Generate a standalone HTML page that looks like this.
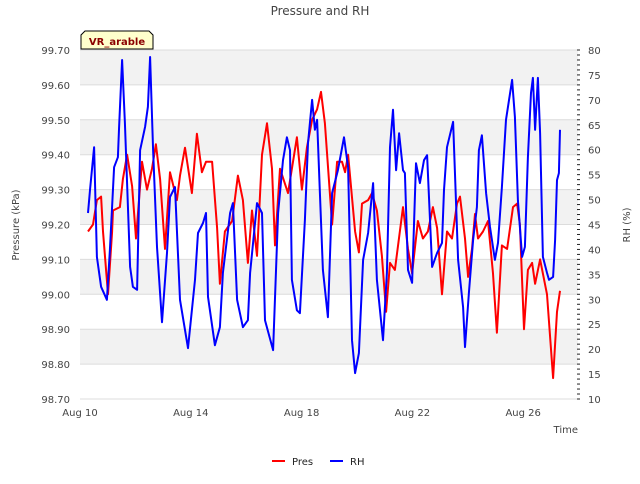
<!DOCTYPE html>
<html><head><meta charset="utf-8"><style>
body{margin:0;background:#fff;font-family:"DejaVu Sans","Liberation Sans",sans-serif}
svg text{font-family:"DejaVu Sans","Liberation Sans",sans-serif}
</style></head><body>
<svg id="chart" width="640" height="480" xmlns="http://www.w3.org/2000/svg">
<text x="320" y="15" text-anchor="middle" font-size="12" fill="#444">Pressure and RH</text>
<g id="bands"></g>
<g id="grid"></g>
<g id="axes"></g>
<g id="series"></g>
<path d="M81,49 L81,35 L85,31 L149,31 L153,35 L153,49 Z" fill="#ffffcc" stroke="#000" stroke-width="1"/>
<text x="117" y="45" text-anchor="middle" font-size="10" font-weight="bold" fill="#8b0000">VR_arable</text>
<text transform="translate(19,225) rotate(-90)" text-anchor="middle" font-size="10" fill="#444">Pressure (kPa)</text>
<text transform="translate(630,225) rotate(-90)" text-anchor="middle" font-size="10" fill="#444">RH (%)</text>
<text x="578" y="433" text-anchor="end" font-size="10" fill="#444">Time</text>
<g>
<line x1="272" y1="461" x2="285" y2="461" stroke="#ff0000" stroke-width="2"/>
<text x="292" y="465" font-size="10" fill="#222">Pres</text>
<line x1="330" y1="461" x2="343" y2="461" stroke="#0000ff" stroke-width="2"/>
<text x="350" y="465" font-size="10" fill="#222">RH</text>
</g>
</svg>
<script>
const presDays=[10.29,10.47,10.61,10.76,10.83,11.01,11.16,11.19,11.44,11.55,11.70,11.88,12.02,12.24,12.42,12.60,12.74,12.89,13.07,13.25,13.50,13.61,13.79,14.04,14.22,14.40,14.55,14.77,14.95,15.05,15.23,15.49,15.70,15.88,16.06,16.21,16.39,16.57,16.75,16.93,17.04,17.22,17.51,17.83,18.01,18.19,18.38,18.56,18.70,18.84,19.10,19.28,19.46,19.57,19.68,19.93,20.07,20.18,20.40,20.54,20.72,20.90,21.05,21.19,21.37,21.66,21.84,21.99,22.20,22.38,22.56,22.74,22.89,23.07,23.25,23.43,23.61,23.72,23.90,24.01,24.15,24.26,24.37,24.55,24.73,24.91,25.05,25.23,25.42,25.63,25.78,25.88,26.03,26.17,26.32,26.43,26.61,26.86,27.08,27.22,27.33];
const presValues=[99.18,99.20,99.27,99.28,99.18,99.00,99.18,99.24,99.25,99.33,99.40,99.31,99.16,99.38,99.30,99.36,99.43,99.33,99.13,99.35,99.27,99.34,99.42,99.29,99.46,99.35,99.38,99.38,99.19,99.03,99.18,99.21,99.34,99.27,99.09,99.24,99.11,99.40,99.49,99.36,99.14,99.36,99.29,99.45,99.30,99.42,99.50,99.53,99.58,99.49,99.20,99.38,99.38,99.35,99.40,99.18,99.12,99.26,99.27,99.29,99.24,99.11,98.95,99.09,99.07,99.25,99.13,99.06,99.21,99.16,99.18,99.25,99.19,99.00,99.18,99.16,99.26,99.28,99.16,99.05,99.13,99.23,99.16,99.18,99.21,99.06,98.89,99.14,99.13,99.25,99.26,99.20,98.90,99.07,99.09,99.03,99.10,99.00,98.76,98.95,99.01];
const rhDays=[10.29,10.36,10.51,10.61,10.76,10.97,11.08,11.23,11.37,11.41,11.52,11.62,11.81,11.91,12.06,12.17,12.35,12.45,12.53,12.64,12.78,12.96,13.14,13.25,13.43,13.61,13.90,14.15,14.26,14.44,14.55,14.62,14.87,15.05,15.16,15.42,15.52,15.67,15.88,16.06,16.14,16.39,16.57,16.68,16.97,17.15,17.33,17.47,17.58,17.65,17.83,17.94,18.12,18.23,18.38,18.48,18.56,18.66,18.77,18.95,19.10,19.31,19.53,19.68,19.82,19.93,20.07,20.22,20.40,20.58,20.72,20.94,21.08,21.19,21.30,21.41,21.52,21.66,21.73,21.84,21.99,22.13,22.27,22.42,22.53,22.71,22.89,23.07,23.14,23.25,23.47,23.65,23.83,23.90,24.04,24.19,24.33,24.40,24.51,24.66,24.80,24.98,25.09,25.23,25.38,25.60,25.70,25.81,25.96,26.06,26.17,26.28,26.35,26.43,26.53,26.61,26.71,26.86,26.93,27.08,27.15,27.22,27.29,27.33];
const rhValues=[47.3,51.9,60.5,38.5,32.5,29.9,39.9,56.5,58.5,64.6,78.0,65.4,36.5,32.5,31.9,59.9,64.6,68.6,78.6,59.9,40.5,25.4,39.3,50.5,52.5,29.9,20.2,33.9,43.3,45.3,47.3,30.5,20.8,24.4,35.3,47.3,49.3,29.9,24.4,25.8,35.3,49.3,47.3,25.8,19.8,47.3,57.9,62.5,59.9,33.9,27.8,27.2,45.9,61.3,70.0,64.0,66.0,51.3,35.9,26.4,51.3,55.9,62.5,56.5,21.8,15.2,19.2,37.9,43.3,53.3,33.9,21.8,35.3,60.5,68.0,55.9,63.3,55.9,55.3,35.9,33.3,57.3,53.3,57.9,58.9,36.5,39.3,41.3,51.9,60.5,65.6,37.9,28.4,20.4,31.3,41.9,48.5,59.9,62.9,51.3,44.5,37.9,41.3,52.5,66.0,74.0,66.6,49.9,38.5,40.5,58.5,71.4,74.4,64.0,74.4,63.3,38.5,35.3,33.9,34.5,41.9,53.9,55.3,64.0];
const leftTicks=["98.70","98.80","98.90","99.00","99.10","99.20","99.30","99.40","99.50","99.60","99.70"];
const rightTicks=[10,15,20,25,30,35,40,45,50,55,60,65,70,75,80];
const xTickDays=[10,14,18,22,26];
const xTickLabels=["Aug 10","Aug 14","Aug 18","Aug 22","Aug 26"];

const NS="http://www.w3.org/2000/svg";
const L=80,R=578,T=50,B=399;
const xS=d=>L+(d-10)*27.7;
const yP=v=>T+(99.70-v)/1.0*(B-T);
const yH=v=>T+(80-v)/70*(B-T);
function mk(tag,attrs,parent){const e=document.createElementNS(NS,tag);for(const k in attrs)e.setAttribute(k,attrs[k]);parent.appendChild(e);return e;}
const bands=document.getElementById('bands'),grid=document.getElementById('grid'),axes=document.getElementById('axes'),series=document.getElementById('series');
for(let i=0;i<leftTicks.length-1;i++){
  const v=parseFloat(leftTicks[i]);
  if(i%2===1){
    const r=mk('rect',{x:L,y:yP(v+0.1),width:R-L,height:yP(v)-yP(v+0.1),fill:'#f2f2f2'},bands);
    
    
  }
}
leftTicks.forEach(t=>{
  const v=parseFloat(t),y=yP(v);
  const g=mk('line',{x1:L,x2:R,y1:y,y2:y,stroke:'#dcdcdc','stroke-width':1},grid);
  
  
  const tx=mk('text',{x:70,y:y+4,'text-anchor':'end','font-size':10,fill:'#444'},axes);
  tx.textContent=t;
  
  
});
rightTicks.forEach(v=>{
  const y=yH(v);
  const tx=mk('text',{x:588,y:y+4,'font-size':10,fill:'#444'},axes);
  tx.textContent=v;
  
  
});
for(let v=10;v<=80;v++){
  const y=yH(v);
  const tk=mk('line',{x1:R-1,x2:R+2,y1:y,y2:y,stroke:'#222','stroke-width':1},axes);
  
  
}
xTickDays.forEach((d,i)=>{
  const tx=mk('text',{x:xS(d),y:416,'text-anchor':'middle','font-size':10,fill:'#444'},axes);
  tx.textContent=xTickLabels[i];
  
  
});
const pp=mk('polyline',{points:presDays.map((d,i)=>xS(d).toFixed(1)+','+yP(presValues[i]).toFixed(1)).join(' '),fill:'none',stroke:'#ff0000','stroke-width':2,'stroke-linejoin':'round'},series);


const rp=mk('polyline',{points:rhDays.map((d,i)=>xS(d).toFixed(1)+','+yH(rhValues[i]).toFixed(1)).join(' '),fill:'none',stroke:'#0000ff','stroke-width':2,'stroke-linejoin':'round'},series);


</script>
</body></html>
